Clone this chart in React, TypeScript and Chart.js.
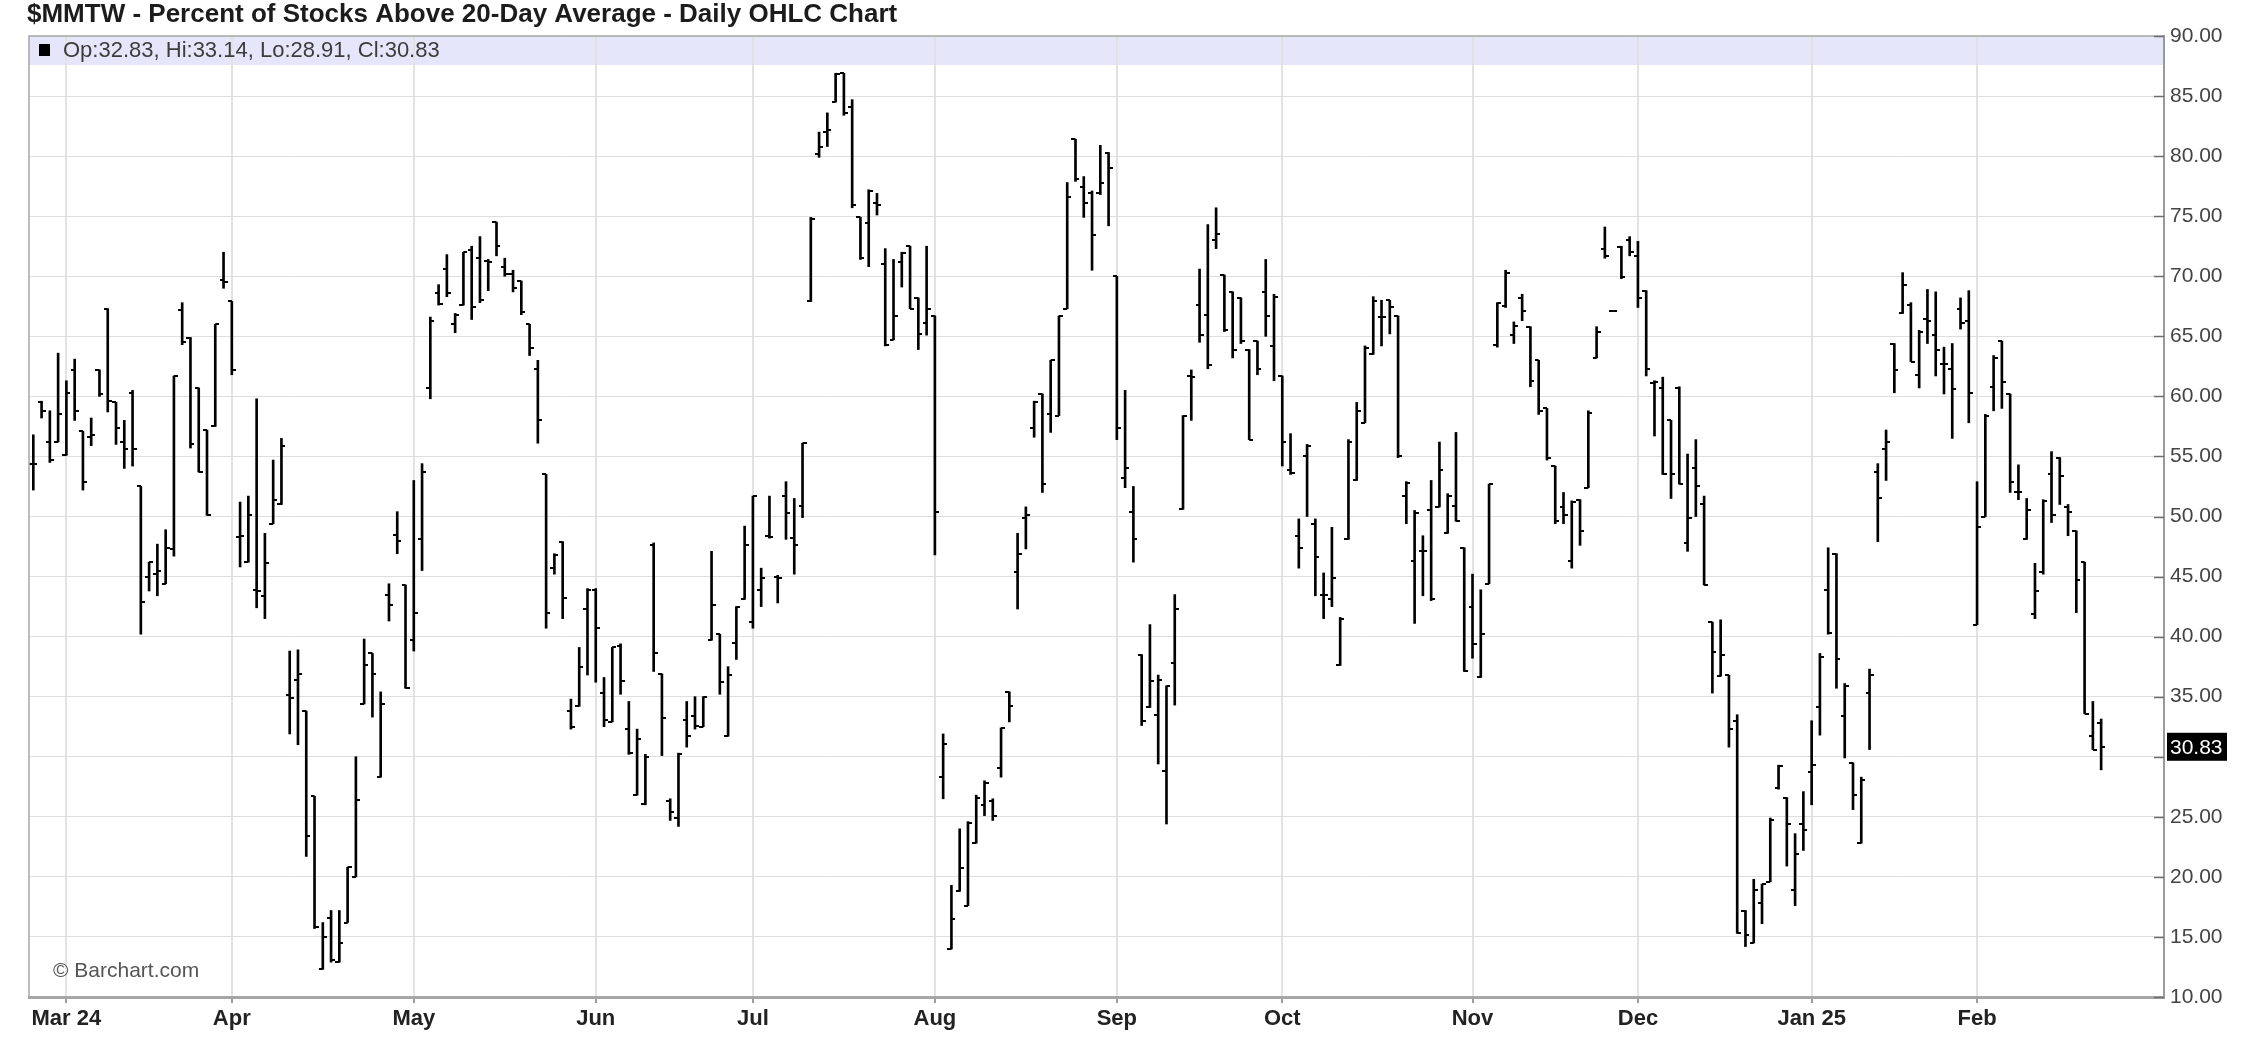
import React, { useEffect, useRef } from 'react';
import { Chart, registerables } from 'chart.js';

Chart.register(...registerables);

const chartTitle = '$MMTW - Percent of Stocks Above 20-Day Average - Daily OHLC Chart';
const legendText = 'Op:32.83, Hi:33.14, Lo:28.91, Cl:30.83';
const copyrightText = '\u00A9 Barchart.com';
const lastClose = 30.83;

const monthTickIndex = [4, 24, 46, 68, 87, 109, 131, 151, 174, 194, 215, 235];
const monthTickLabels = ['Mar 24', 'Apr', 'May', 'Jun', 'Jul', 'Aug', 'Sep', 'Oct', 'Nov', 'Dec', 'Jan 25', 'Feb'];

const yMin = 10;
const yMax = 90;
const yStep = 5;

const opens = [
  54.4, 59.5, 56.2, 56.2, 55.1, 62.2, 57.1, 56.6, 62.2, 67.3,
  59.5, 56.2, 60.3, 52.5, 45.0, 45.2, 44.4, 47.3, 67.2, 64.9,
  60.7, 57.2, 57.5, 69.7, 67.9, 48.3, 46.2, 43.9, 43.4, 49.4,
  51.0, 35.1, 36.4, 33.8, 26.7, 12.3, 16.6, 12.9, 16.2, 20.0,
  34.4, 38.6, 28.3, 43.5, 48.5, 44.3, 39.7, 48.1, 60.7, 68.6,
  70.6, 66.0, 67.6, 72.2, 71.5, 71.3, 74.5, 70.8, 70.2, 69.6,
  66.0, 62.3, 53.5, 45.7, 47.9, 33.8, 34.2, 42.3, 43.9, 35.3,
  32.9, 39.2, 32.3, 26.8, 26.1, 47.6, 36.9, 26.3, 24.9, 33.1,
  33.4, 32.5, 39.7, 40.2, 31.7, 39.5, 43.1, 41.2, 43.9, 48.4,
  45.0, 51.7, 48.2, 50.9, 67.9, 80.2, 82.0, 84.5, 86.9, 84.1,
  74.9, 74.4, 76.1, 71.0, 64.7, 71.2, 72.5, 68.2, 66.1, 66.7,
  28.3, 14.0, 18.8, 17.6, 22.8, 26.0, 26.3, 29.1, 35.4, 45.4,
  49.9, 57.4, 60.2, 58.5, 58.4, 67.3, 81.4, 77.4, 76.9, 76.9,
  80.3, 70.0, 53.2, 50.4, 38.5, 34.1, 33.5, 28.8, 37.8, 50.6,
  61.7, 67.6, 66.8, 73.0, 70.1, 68.7, 68.2, 63.9, 64.6, 68.7,
  64.2, 61.7, 53.9, 48.4, 55.0, 49.4, 43.5, 43.1, 37.6, 48.1,
  53.0, 57.8, 63.5, 66.6, 68.0, 66.7, 51.7, 46.3, 47.1, 50.5,
  50.8, 48.6, 50.9, 47.4, 42.5, 36.6, 44.4, 64.3, 67.5, 65.1,
  68.2, 65.8, 63.0, 59.0, 54.2, 50.8, 46.3, 51.4, 52.4, 63.2,
  72.3, 67.1, 72.4, 73.0, 71.7, 68.8, 61.1, 60.7, 58.0, 60.7,
  47.8, 54.0, 51.0, 41.2, 36.7, 36.8, 33.0, 17.2, 14.5, 17.8,
  19.6, 27.4, 26.6, 18.9, 24.4, 28.7, 34.1, 43.9, 46.9, 33.4,
  29.5, 22.8, 35.3, 53.7, 55.6, 64.4, 66.9, 67.6, 61.8, 66.4,
  65.1, 62.7, 62.3, 67.3, 66.3, 41.0, 50.0, 60.8, 64.6, 60.2,
  52.0, 48.1, 41.9, 45.4, 53.5, 54.9, 50.8, 48.8, 46.2, 31.7,
  32.83,
];

const highs = [
  56.8, 59.6, 58.8, 63.6, 61.3, 63.1, 57.1, 58.2, 62.2, 67.3,
  59.5, 58.0, 60.5, 52.5, 46.2, 47.7, 48.9, 61.7, 67.8, 64.9,
  60.7, 57.2, 66.0, 72.0, 67.9, 51.2, 51.7, 59.8, 48.6, 54.7,
  56.5, 38.8, 38.9, 33.8, 26.7, 16.2, 17.2, 17.2, 20.8, 30.0,
  39.8, 38.6, 35.4, 44.4, 50.4, 44.3, 53.0, 54.4, 66.6, 69.3,
  71.8, 66.9, 72.0, 72.5, 73.3, 71.4, 74.5, 71.5, 70.5, 69.6,
  66.0, 63.0, 53.5, 46.9, 47.9, 34.8, 39.1, 44.0, 44.0, 36.6,
  39.1, 39.4, 34.6, 32.3, 30.2, 47.8, 36.9, 26.5, 30.3, 34.6,
  35.0, 35.0, 47.1, 40.2, 37.5, 42.5, 49.2, 51.7, 45.7, 51.7,
  45.1, 52.9, 51.5, 56.1, 74.9, 82.0, 83.6, 86.9, 86.9, 84.7,
  74.9, 77.2, 76.9, 72.3, 71.4, 72.0, 72.5, 68.2, 72.5, 66.7,
  31.9, 19.3, 24.0, 24.6, 26.8, 28.0, 26.5, 32.4, 35.4, 48.6,
  50.8, 59.6, 60.2, 63.0, 66.7, 77.8, 81.4, 78.3, 77.1, 80.9,
  80.3, 70.0, 60.5, 52.5, 38.5, 41.0, 36.8, 35.9, 43.5, 58.4,
  62.2, 70.6, 74.3, 75.7, 70.1, 68.7, 68.2, 63.9, 64.6, 71.4,
  68.5, 61.7, 56.9, 49.8, 56.0, 49.8, 45.3, 49.1, 41.6, 56.4,
  59.5, 64.2, 68.3, 68.0, 68.0, 66.7, 52.9, 50.5, 48.4, 53.0,
  56.2, 51.9, 57.0, 47.4, 45.2, 43.9, 52.7, 67.8, 70.5, 66.2,
  68.5, 65.8, 63.0, 59.0, 54.2, 52.0, 51.3, 51.4, 58.8, 65.8,
  74.1, 67.1, 72.5, 73.3, 72.9, 68.8, 61.3, 61.6, 58.0, 60.8,
  55.2, 56.4, 51.7, 41.2, 41.4, 36.8, 33.5, 17.2, 19.8, 19.4,
  24.9, 29.3, 26.6, 23.6, 27.1, 33.0, 38.6, 47.4, 46.9, 36.1,
  29.5, 28.3, 37.3, 54.4, 57.2, 64.4, 70.3, 67.8, 65.5, 68.9,
  68.7, 64.1, 64.4, 68.2, 68.8, 52.9, 58.5, 63.4, 64.6, 60.2,
  54.3, 51.5, 46.1, 51.4, 55.4, 54.9, 51.0, 48.8, 46.2, 34.6,
  33.14,
];

const lows = [
  52.2, 58.2, 54.5, 56.2, 55.1, 58.0, 52.2, 55.9, 60.0, 58.7,
  56.0, 54.0, 54.2, 40.2, 43.8, 43.4, 44.4, 46.7, 64.3, 55.7,
  53.7, 50.1, 57.5, 69.0, 61.8, 45.8, 46.2, 42.4, 41.5, 49.4,
  51.0, 31.9, 31.0, 21.7, 15.7, 12.3, 12.9, 12.9, 16.2, 20.0,
  34.4, 33.3, 28.3, 41.3, 46.9, 35.7, 38.8, 45.5, 59.8, 67.6,
  68.3, 65.3, 67.6, 66.4, 67.8, 68.8, 71.7, 70.0, 68.7, 66.8,
  63.4, 56.1, 40.7, 45.2, 41.5, 32.3, 34.2, 36.8, 36.2, 32.5,
  32.9, 35.2, 30.2, 26.8, 26.0, 37.1, 30.1, 24.7, 24.2, 30.8,
  32.3, 32.5, 39.7, 35.2, 31.7, 38.1, 43.1, 40.7, 42.5, 48.2,
  42.8, 48.1, 45.2, 49.9, 67.9, 79.9, 80.8, 84.5, 83.4, 75.7,
  71.4, 70.8, 75.1, 64.2, 64.7, 69.1, 67.3, 63.9, 65.1, 46.8,
  26.5, 14.0, 18.8, 17.6, 22.8, 25.1, 24.7, 28.3, 32.9, 42.3,
  47.3, 56.6, 52.0, 57.0, 58.4, 67.3, 77.9, 74.9, 70.5, 76.8,
  74.2, 56.4, 52.4, 46.2, 32.6, 34.1, 29.4, 24.4, 34.3, 50.6,
  58.0, 64.5, 62.3, 72.3, 65.4, 63.2, 64.4, 56.4, 61.8, 65.0,
  61.3, 54.2, 53.5, 45.7, 50.0, 43.4, 41.5, 42.5, 37.6, 48.1,
  53.0, 57.8, 63.5, 64.2, 65.2, 54.9, 49.4, 41.1, 43.4, 43.0,
  50.8, 48.6, 49.6, 37.1, 38.2, 36.6, 44.4, 64.1, 67.4, 64.4,
  66.3, 60.8, 58.5, 54.7, 49.4, 49.4, 45.7, 47.6, 52.4, 63.2,
  71.5, 67.1, 69.8, 71.7, 67.4, 61.7, 56.7, 53.5, 51.5, 52.7,
  47.1, 50.0, 44.3, 35.3, 36.7, 30.8, 15.3, 14.2, 14.5, 16.1,
  19.6, 27.3, 20.9, 17.6, 22.2, 26.0, 31.8, 40.2, 35.7, 29.9,
  25.6, 22.8, 30.6, 47.9, 53.0, 60.3, 66.9, 62.9, 60.7, 64.4,
  61.7, 60.2, 56.5, 65.6, 57.8, 41.0, 50.0, 58.8, 59.0, 52.0,
  51.4, 48.1, 41.5, 45.2, 49.5, 51.0, 48.4, 42.0, 33.6, 30.6,
  28.91,
];

const closes = [
  54.4, 58.8, 54.7, 58.5, 60.3, 58.8, 52.9, 56.8, 60.2, 59.6,
  57.4, 55.6, 55.6, 42.9, 46.2, 45.5, 47.4, 61.7, 64.5, 56.0,
  53.7, 50.1, 66.0, 69.5, 62.2, 48.4, 50.1, 43.8, 46.1, 51.4,
  55.9, 34.9, 36.9, 23.4, 15.8, 15.0, 13.1, 14.5, 20.8, 26.4,
  37.6, 36.9, 34.4, 42.6, 48.0, 35.7, 42.0, 53.7, 66.3, 67.7,
  68.6, 66.8, 72.0, 67.4, 68.0, 71.2, 72.5, 70.2, 69.0, 67.0,
  64.0, 58.0, 42.0, 46.8, 43.2, 32.5, 37.5, 43.9, 40.7, 33.1,
  39.1, 36.3, 30.3, 31.5, 30.0, 38.6, 33.2, 25.4, 30.2, 31.7,
  32.6, 35.0, 42.6, 36.2, 36.8, 42.5, 47.6, 51.7, 44.9, 48.3,
  44.9, 50.3, 47.6, 56.1, 74.8, 80.8, 82.2, 86.8, 83.6, 75.9,
  71.5, 77.1, 75.9, 64.3, 66.7, 71.9, 67.3, 65.2, 67.3, 50.4,
  31.1, 16.5, 20.7, 24.5, 26.6, 27.8, 25.1, 32.4, 34.2, 46.9,
  50.1, 59.5, 52.7, 63.0, 66.7, 76.6, 78.1, 76.1, 73.4, 77.8,
  79.0, 57.4, 54.0, 48.1, 33.0, 36.3, 36.4, 35.9, 42.3, 58.4,
  61.6, 65.1, 62.6, 73.5, 65.5, 63.9, 64.6, 56.4, 62.3, 66.7,
  68.3, 56.2, 53.6, 47.4, 55.9, 46.6, 43.5, 44.9, 41.5, 56.2,
  58.8, 64.0, 67.9, 66.6, 67.4, 55.0, 52.8, 50.3, 47.1, 43.1,
  53.9, 51.7, 49.6, 37.1, 39.4, 40.2, 52.7, 67.8, 70.3, 65.9,
  67.1, 61.3, 58.8, 54.9, 49.6, 50.1, 51.2, 48.8, 58.6, 65.4,
  71.7, 67.1, 69.9, 72.0, 68.2, 62.3, 61.2, 53.5, 53.5, 52.7,
  49.9, 52.5, 44.3, 38.7, 38.5, 32.3, 15.3, 15.2, 18.9, 19.4,
  24.7, 29.2, 24.4, 21.9, 23.9, 29.3, 38.3, 40.3, 38.1, 35.9,
  26.8, 28.1, 36.8, 51.5, 56.2, 62.2, 69.3, 62.9, 65.4, 66.3,
  63.9, 62.7, 60.6, 66.1, 60.3, 49.1, 58.4, 63.2, 61.2, 52.9,
  52.0, 50.5, 43.8, 51.3, 50.1, 53.4, 50.4, 44.7, 33.6, 30.6,
  30.83,
];

const FONT = 'Arial, "Liberation Sans", Helvetica, sans-serif';

function makeTickImage(side: 'left' | 'right'): HTMLCanvasElement {
  const c = document.createElement('canvas');
  c.width = 8;
  c.height = 2;
  const g = c.getContext('2d');
  if (g) {
    g.fillStyle = '#000000';
    if (side === 'left') g.fillRect(0, 0, 4, 2);
    else g.fillRect(4, 0, 4, 2);
  }
  return c;
}

const decorPlugin = {
  id: 'barchartDecor',
  beforeDraw(chart: any) {
    const { ctx, chartArea: a } = chart;
    ctx.save();
    ctx.fillStyle = '#ffffff';
    ctx.fillRect(0, 0, chart.width, chart.height);
    ctx.fillStyle = '#e6e6fa';
    ctx.fillRect(a.left, a.top, a.right - a.left, 29);
    ctx.restore();
  },
  afterDraw(chart: any) {
    const { ctx, chartArea: a, scales } = chart;
    const ys = scales.y;
    ctx.save();
    // frame (left + top)
    ctx.strokeStyle = '#a8a8a8';
    ctx.lineWidth = 1.5;
    ctx.beginPath();
    ctx.moveTo(a.left, a.bottom);
    ctx.lineTo(a.left, a.top);
    ctx.lineTo(a.right, a.top);
    ctx.stroke();
    // inner tick marks of right axis
    ctx.strokeStyle = '#6e6e6e';
    ctx.lineWidth = 1.5;
    for (const t of ys.ticks) {
      const py = Math.round(ys.getPixelForValue(t.value)) + 0.5;
      ctx.beginPath();
      ctx.moveTo(a.right - 10, py);
      ctx.lineTo(a.right, py);
      ctx.stroke();
    }
    // title
    ctx.fillStyle = '#1c1c1c';
    ctx.font = `bold 26px ${FONT}`;
    ctx.textAlign = 'left';
    ctx.textBaseline = 'alphabetic';
    ctx.fillText(chartTitle, 27, 22);
    // legend band content
    ctx.fillStyle = '#000000';
    ctx.fillRect(a.left + 10, a.top + 8, 11, 12);
    ctx.fillStyle = '#3c3c3c';
    ctx.font = `22px ${FONT}`;
    ctx.textBaseline = 'middle';
    ctx.fillText(legendText, a.left + 34, a.top + 15);
    // copyright
    ctx.fillStyle = '#555555';
    ctx.font = `21px ${FONT}`;
    ctx.fillText(copyrightText, 53, a.bottom - 26);
    // last value box
    const py = ys.getPixelForValue(lastClose);
    ctx.fillStyle = '#000000';
    ctx.fillRect(a.right + 3, py - 14, 60, 28);
    ctx.fillStyle = '#ffffff';
    ctx.font = `21px ${FONT}`;
    ctx.fillText(lastClose.toFixed(2), a.right + 6, py + 1);
    ctx.restore();
  },
};

export default function App() {
  const canvasRef = useRef<HTMLCanvasElement | null>(null);

  useEffect(() => {
    const canvas = canvasRef.current;
    if (!canvas) return;
    const openImg = makeTickImage('left');
    const closeImg = makeTickImage('right');

    const barData = lows.map((l, i) => ({ x: i, y: [l, highs[i]] }));
    const openData = opens.map((o, i) => ({ x: i, y: o }));
    const closeData = closes.map((c, i) => ({ x: i, y: c }));

    const chart = new Chart(canvas, {
      type: 'bar',
      data: {
        datasets: [
          {
            type: 'bar',
            data: barData as any,
            backgroundColor: '#000000',
            borderWidth: 0,
            barThickness: 2,
          } as any,
          {
            type: 'scatter',
            data: openData,
            pointStyle: openImg as any,
            pointRadius: 4,
            showLine: false,
          } as any,
          {
            type: 'scatter',
            data: closeData,
            pointStyle: closeImg as any,
            pointRadius: 4,
            showLine: false,
          } as any,
        ],
      },
      plugins: [decorPlugin],
      options: {
        responsive: false,
        animation: false,
        devicePixelRatio: 1,
        events: [],
        layout: { padding: { top: 36, left: 29, right: 0, bottom: 0 } },
        plugins: {
          legend: { display: false },
          tooltip: { enabled: false },
          title: { display: false },
        },
        scales: {
          x: {
            type: 'linear',
            position: 'bottom',
            min: -0.52,
            max: 257.6,
            offset: false,
            afterBuildTicks: (scale: any) => {
              scale.ticks = monthTickIndex.map((v) => ({ value: v }));
            },
            afterFit: (scale: any) => {
              scale.height = 50;
            },
            ticks: {
              autoSkip: false,
              maxRotation: 0,
              minRotation: 0,
              padding: 3,
              color: '#222222',
              font: { family: FONT, size: 22, weight: 'bold' },
              callback: (value: any) => {
                const k = monthTickIndex.indexOf(Number(value));
                return k >= 0 ? monthTickLabels[k] : '';
              },
            },
            grid: {
              offset: false,
              color: '#e2e2e2',
              lineWidth: 2,
              drawTicks: true,
              tickLength: 6,
              tickColor: '#7a7a7a',
              tickWidth: 1.5,
            },
            border: { display: true, color: '#a6a6a6', width: 3 },
          } as any,
          y: {
            type: 'linear',
            position: 'right',
            min: yMin,
            max: yMax,
            afterFit: (scale: any) => {
              scale.width = 88;
            },
            ticks: {
              stepSize: yStep,
              padding: 6,
              color: '#444444',
              font: { family: FONT, size: 21 },
              callback: (value: any) => {
                const v = Number(value);
                return Math.abs(v - 30) < 1e-9 ? '' : v.toFixed(2);
              },
            },
            grid: {
              color: '#dedede',
              lineWidth: 1,
              drawTicks: false,
            },
            border: { display: true, color: '#9a9a9a', width: 2 },
          } as any,
        },
      } as any,
    });

    return () => {
      chart.destroy();
    };
  }, []);

  return (
    <div style={{ position: 'fixed', left: 0, top: 0, width: 2252, height: 1047, background: '#ffffff' }}>
      <canvas ref={canvasRef} width={2252} height={1047} style={{ display: 'block', width: 2252, height: 1047 }} />
    </div>
  );
}
